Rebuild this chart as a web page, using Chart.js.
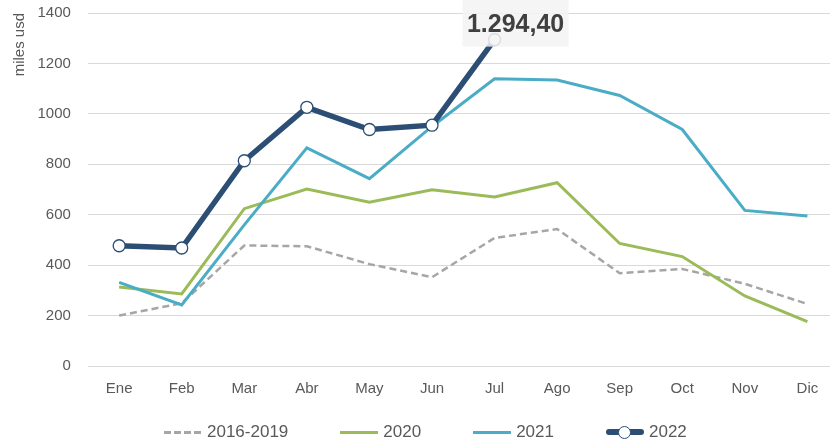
<!DOCTYPE html>
<html lang="es">
<head>
<meta charset="UTF-8">
<title>Exportaciones mensuales</title>
<script src="https://cdn.jsdelivr.net/npm/chart.js"></script>
<style>
  html, body {
    margin: 0;
    padding: 0;
    background: #fff;
    overflow: hidden;
    font-family: 'Liberation Sans', Arial, sans-serif;
  }
  .wrap {
    position: relative;
    width: 846px;
    height: 445px;
  }
  #legend {
    position: absolute;
    left: 164px;
    top: 422px;
    height: 20px;
    display: flex;
    align-items: center;
    font-size: 17px;
    color: #595959;
    white-space: nowrap;
  }
  .item {
    display: flex;
    align-items: center;
    margin-right: 52px;
  }
  .sw {
    position: relative;
    width: 38px;
    height: 20px;
    margin-right: 5px;
  }
  .sw::before {
    content: '';
    position: absolute;
    left: 0;
    right: 0;
    top: 50%;
  }
  .sw.dash::before {
    height: 3px;
    margin-top: -1.5px;
    background: repeating-linear-gradient(to right, #A6A6A6 0 7px, transparent 7px 10px);
  }
  .sw.green::before { height: 3px; margin-top: -1.5px; background: #9BBB59; }
  .sw.teal::before { height: 3px; margin-top: -1.5px; background: #4BACC6; }
  .sw.navy::before { height: 6px; margin-top: -3px; background: #2C4E74; border-radius: 3px; }
  .sw.navy::after {
    content: '';
    position: absolute;
    left: 12.5px;
    top: 3.5px;
    width: 11px;
    height: 11px;
    border: 1.3px solid #2C4E74;
    border-radius: 50%;
    background: #fff;
  }
</style>
</head>
<body>
<div class="wrap">
  <canvas id="cv" width="846" height="445"></canvas>
  <div id="legend">
    <div class="item"><span class="sw dash"></span>2016-2019</div>
    <div class="item"><span class="sw green"></span>2020</div>
    <div class="item"><span class="sw teal"></span>2021</div>
    <div class="item"><span class="sw navy"></span>2022</div>
  </div>
</div>

<script>
const months = ['Ene','Feb','Mar','Abr','May','Jun','Jul','Ago','Sep','Oct','Nov','Dic'];
const avg1619 = [200, 249, 478, 475, 404, 352, 508, 543, 368, 385, 326, 246];
const v2020 = [313, 286, 624, 702, 650, 699, 670, 727, 486, 434, 278, 176];
const v2021 = [332, 242, 560, 865, 743, 950, 1139, 1134, 1073, 938, 617, 595];
const v2022 = [477, 468, 814, 1026, 938, 955, 1294.4];
const yTicks = [0, 200, 400, 600, 800, 1000, 1200, 1400];
const lastLabel = '1.294,40';

const FONT = "'Liberation Sans', Arial, sans-serif";
const TXT = '#595959';

// etiqueta del último valor de 2022
const lastValuePlugin = {
  id: 'lastValue',
  afterDatasetsDraw(chart) {
    const meta = chart.getDatasetMeta(3);
    const pt = meta.data[v2022.length - 1];
    if (!pt) return;
    const ctx = chart.ctx;
    ctx.save();
    ctx.fillStyle = 'rgba(243,243,243,0.85)';
    ctx.fillRect(pt.x - 32, pt.y - 41, 106, 48);
    ctx.fillStyle = '#404040';
    ctx.font = 'bold 25px ' + FONT;
    ctx.textAlign = 'center';
    ctx.textBaseline = 'middle';
    ctx.fillText(lastLabel, pt.x + 21, pt.y - 15);
    ctx.restore();
  }
};

new Chart(document.getElementById('cv'), {
  type: 'line',
  data: {
    labels: months,
    datasets: [
      { label: '2016-2019', data: avg1619, borderColor: '#A6A6A6', borderWidth: 2.5,
        borderDash: [7, 4], pointRadius: 0, order: 3 },
      { label: '2020', data: v2020, borderColor: '#9BBB59', borderWidth: 3,
        pointRadius: 0, order: 2 },
      { label: '2021', data: v2021, borderColor: '#4BACC6', borderWidth: 3,
        pointRadius: 0, order: 1 },
      { label: '2022', data: v2022, borderColor: '#2C4E74', borderWidth: 5.5,
        pointRadius: 6, pointBackgroundColor: '#fff', pointBorderColor: '#2C4E74',
        pointBorderWidth: 1.3, order: 0 }
    ]
  },
  options: {
    responsive: false,
    animation: false,
    events: [],
    layout: { padding: { left: 10.5, right: 0, top: 13, bottom: 44 } },
    plugins: {
      legend: { display: false },
      tooltip: { enabled: false }
    },
    elements: { line: { tension: 0, borderCapStyle: 'butt', borderJoinStyle: 'miter' } },
    scales: {
      x: {
        offset: true,
        grid: { display: false, drawTicks: true, tickLength: 11 },
        border: { display: false },
        ticks: { color: TXT, font: { family: FONT, size: 15 }, padding: 3 }
      },
      y: {
        min: 0,
        max: 1400,
        afterBuildTicks: axis => { axis.ticks = yTicks.map(v => ({ value: v })); },
        grid: { color: '#D9D9D9', lineWidth: 1, drawTicks: true, tickLength: 14, tickColor: 'rgba(0,0,0,0)' },
        border: { display: false },
        ticks: { color: TXT, font: { family: FONT, size: 15 }, padding: 3, callback: v => String(v) },
        title: {
          display: true,
          text: 'miles usd',
          align: 'end',
          color: TXT,
          font: { family: FONT, size: 15 },
          padding: { top: 0, bottom: 6 }
        }
      }
    }
  },
  plugins: [lastValuePlugin]
});
</script>
</body>
</html>
